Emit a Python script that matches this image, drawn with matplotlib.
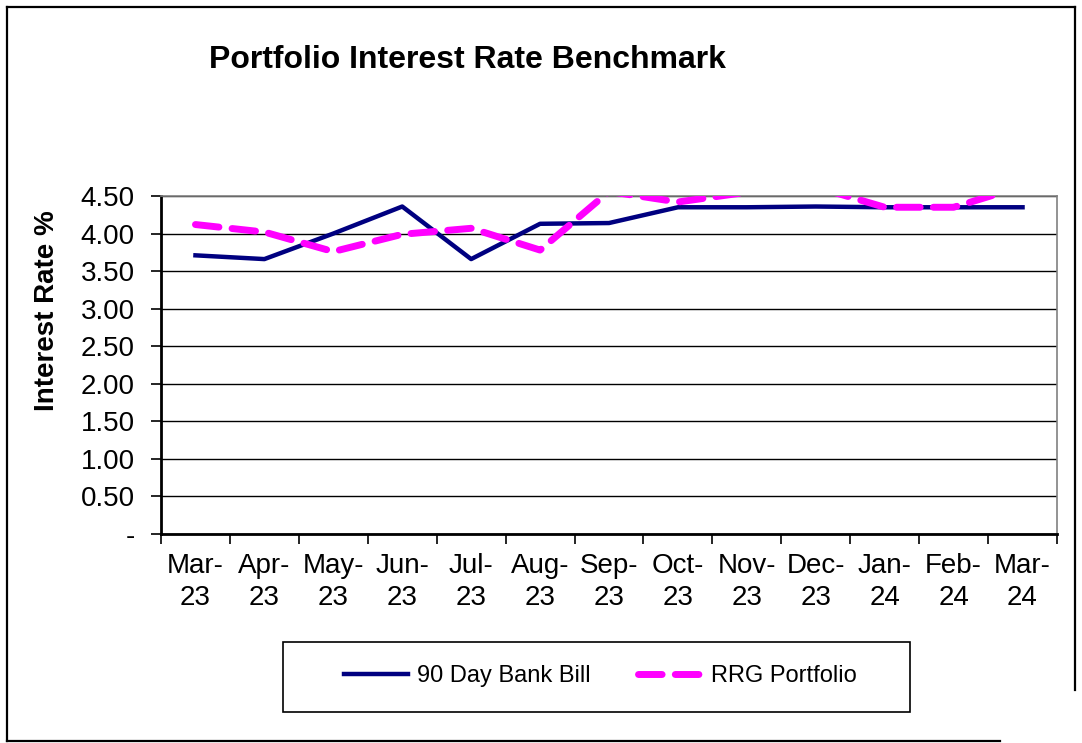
import matplotlib.pyplot as plt
from matplotlib.lines import Line2D
import numpy as np

plt.rcParams['font.family'] = ['Liberation Sans', 'DejaVu Sans']

months = ["Mar-\n23", "Apr-\n23", "May-\n23", "Jun-\n23", "Jul-\n23", "Aug-\n23",
          "Sep-\n23", "Oct-\n23", "Nov-\n23", "Dec-\n23", "Jan-\n24", "Feb-\n24", "Mar-\n24"]
bank_bill = [3.71, 3.66, 4.00, 4.36, 3.66, 4.13, 4.14, 4.35, 4.35, 4.36, 4.35, 4.35, 4.35]
rrg_portfolio = [4.12, 4.02, 3.76, 3.99, 4.07, 3.78, 4.56, 4.42, 4.55, 4.62, 4.35, 4.35, 4.63]
y_ticks = [0, 0.5, 1.0, 1.5, 2.0, 2.5, 3.0, 3.5, 4.0, 4.5]

W, H = 1082, 743
fig = plt.figure(figsize=(W / 100, H / 100), dpi=100)
ax = fig.add_axes([161 / W, 1 - 534 / H, (1057 - 161) / W, (534 - 196) / H])

x = np.arange(len(months))
ax.plot(x, bank_bill, color="#000080", lw=3.2, label="90 Day Bank Bill", zorder=3)
ax.plot(x, rrg_portfolio, color="#ff00ff", lw=5, ls=(0, (3.4, 1.9)),
        dash_capstyle="round", label="RRG Portfolio", zorder=3)

ax.set_xlim(-0.5, len(months) - 0.5)
ax.set_ylim(0, 4.5)

# y axis
ax.set_yticks(y_ticks)
ax.set_yticklabels(["-" if v == 0 else f"{v:.2f}" for v in y_ticks], fontsize=20)
ax.yaxis.grid(True, color="black", lw=1)
ax.set_axisbelow(True)
ax.set_ylabel("Interest Rate %", fontsize=20, fontweight="bold")
ax.yaxis.set_label_coords(-0.113, 0.66)

# x axis: labels at category centres, tick marks between categories
ax.set_xticks(x)
ax.set_xticklabels(months, fontsize=20, linespacing=1.3)
ax.tick_params(axis="x", which="major", length=0, pad=14)
ax.set_xticks(np.arange(-0.5, len(months)), minor=True)
ax.tick_params(axis="x", which="minor", length=7, width=1.2, direction="out")
ax.tick_params(axis="y", length=7, width=1.2, direction="out", pad=12)

for side in ["left", "bottom"]:
    ax.spines[side].set_linewidth(2)
    ax.spines[side].set_color("black")
for side in ["top", "right"]:
    ax.spines[side].set_linewidth(1.2)
    ax.spines[side].set_color("#808080")

fig.text(467 / W, 1 - 60 / H, "Portfolio Interest Rate Benchmark",
         fontsize=23, fontweight="bold", ha="center", va="center")

# legend with Excel-like box
leg = fig.legend(loc="center", bbox_to_anchor=(600 / W, 1 - 676 / H), ncol=2,
                 frameon=False, fontsize=17, handlelength=2.75,
                 handletextpad=0.35, columnspacing=2.0)
fig.patches.append(plt.Rectangle((283 / W, 1 - 712 / H), (910 - 283) / W, 70 / H,
                                 transform=fig.transFigure, fill=False,
                                 edgecolor="black", lw=1.2))

# outer chart border
for xs, ys in [((7, 7), (7, 741)), ((7, 1075), (7, 7)), ((1075, 1075), (7, 690)),
               ((7, 1000), (741, 741))]:
    fig.lines.append(Line2D([v / W for v in xs], [1 - v / H for v in ys],
                            transform=fig.transFigure, color="black", lw=1.6))

fig.savefig("out.png", dpi=100)
